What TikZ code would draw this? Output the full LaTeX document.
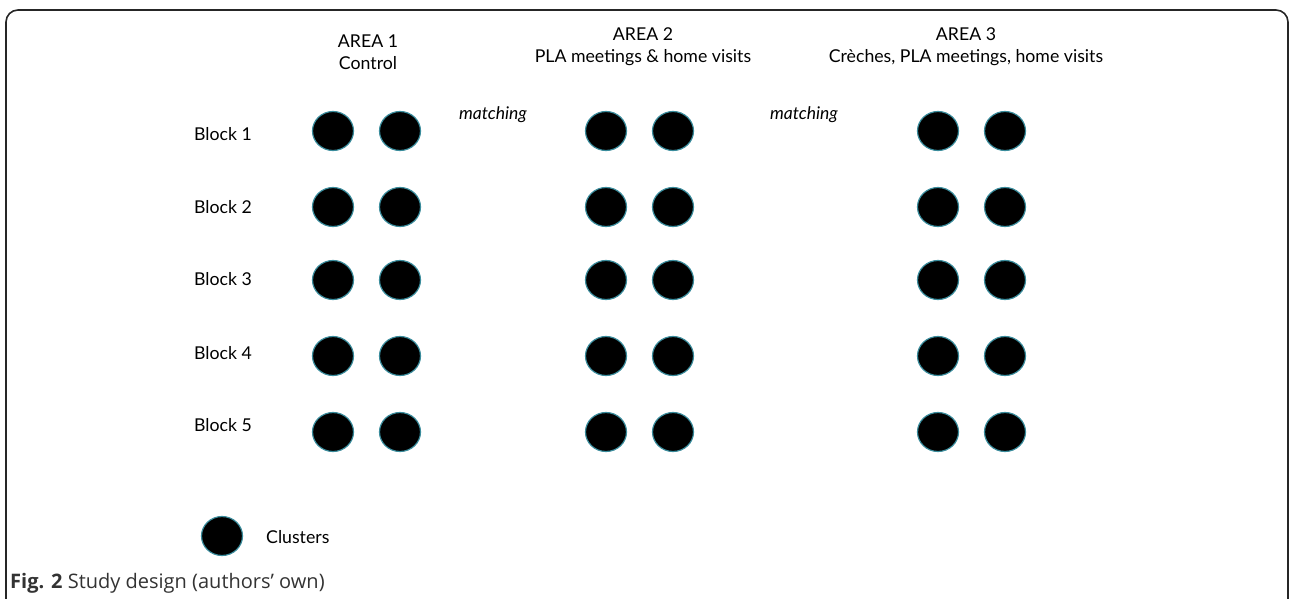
\documentclass[tikz,border=0pt]{standalone}
\usepackage{fontspec}
\setmainfont{Lato}
\newfontfamily\capfont{Open Sans}
\usetikzlibrary{shapes.geometric}
\definecolor{rim}{HTML}{3A8C9C}
\definecolor{captext}{HTML}{333333}
\tikzset{
  cluster/.style={ellipse, fill=black, draw=rim, line width=1.2pt,
    minimum width=41pt, minimum height=39pt, inner sep=0pt},
  label/.style={font=\fontsize{17.7}{21}\selectfont, inner sep=0pt, align=center},
  matchlbl/.style={font=\fontsize{17.5}{20}\selectfont\itshape, inner sep=0pt},
  frame/.style={draw=black!85, line width=1.6pt, rounded corners=12pt}
}
\begin{document}
\begin{tikzpicture}[x=1pt,y=-1pt]
\useasboundingbox (0,0) rectangle (1292,599);
% panel outline, open at the bottom
\draw[frame] (6,620) -- (6,10) -- (1288,10) -- (1288,620);

% column headings
\node[label] (h1) at (368,52) {AREA 1\\[1pt]Control};
\node[label] (h2) at (643,47) {AREA 2\\[1pt]PLA meetings \& home visits};
\node[label] (h3) at (966,47) {AREA 3\\[1pt]Crèches, PLA meetings, home visits};

% matching labels between areas
\node[matchlbl] (m1) at (493,115) {matching};
\node[matchlbl] (m2) at (804,115) {matching};

% block rows with two clusters per area
\foreach \r/\y/\ly in {1/131/134, 2/207/207, 3/280/279, 4/356/353, 5/432/425} {
  \node[label, anchor=west] (b\r) at (194,\ly) {Block \r};
  \node[cluster] (c\r-1a) at (333,\y) {};
  \node[cluster] (c\r-1b) at (400,\y) {};
  \node[cluster] (c\r-2a) at (606,\y) {};
  \node[cluster] (c\r-2b) at (673,\y) {};
  \node[cluster] (c\r-3a) at (938,\y) {};
  \node[cluster] (c\r-3b) at (1005,\y) {};
}

% legend
\node[cluster] (leg) at (222,536) {};
\node[label, anchor=west] (legtxt) at (266,537) {Clusters};

% caption
\node[anchor=west, inner sep=0pt, text=captext, font=\capfont\fontsize{20}{24}\selectfont] (cap) at (10,583)
  {\textbf{Fig. 2} Study design (authors’ own)};
\end{tikzpicture}
\end{document}
